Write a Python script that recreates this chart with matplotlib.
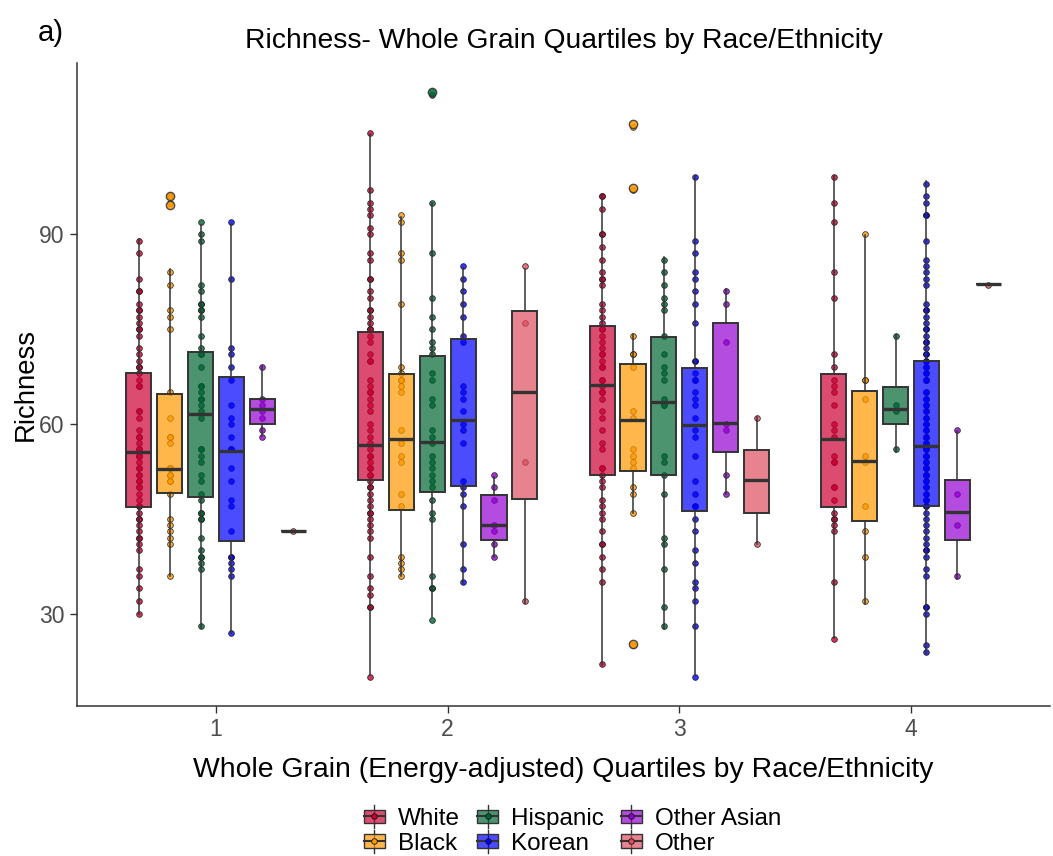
import matplotlib
matplotlib.use("Agg")
import matplotlib.pyplot as plt
from matplotlib.patches import Rectangle, Patch
from matplotlib.lines import Line2D
from matplotlib.legend_handler import HandlerBase

plt.rcParams['font.family'] = ['Liberation Sans', 'DejaVu Sans']

GROUPS = ["White", "Black", "Hispanic", "Korean", "Other Asian", "Other"]
QUARTILES = ["1", "2", "3", "4"]
POINT_COLORS = ["#CC0033", "#FF9900", "#006633", "#0000FF", "#9400D3", "#DE4F5F"]
BOX_COLORS = ["#CC0033", "#FF9900", "#006633", "#0000FF", "#9400D3", "#DE4F5F"]

# jittered observations (Richness) per quartile and group
PTS_Q1 = {
    "White": [89, 87, 83, 81, 81, 79, 78, 78, 77, 76, 75, 75, 74, 72, 71, 70, 69, 69, 68, 67, 66, 66, 62, 62,
              61, 59, 58, 58, 58, 57, 56, 56, 55, 55, 55, 54, 53, 53, 52, 52, 51, 51, 50, 50, 49, 48, 47, 47,
              46, 45, 45, 44, 43, 42, 42, 41, 40, 37, 36, 34, 32, 30],
    "Black": [96, 95, 84, 82, 78, 77, 75, 65, 61, 58, 58, 57, 53, 53, 52, 52, 51, 51, 49, 45, 44, 43, 42, 41, 36],
    "Hispanic": [92, 90, 89, 82, 81, 79, 79, 78, 78, 77, 74, 72, 71, 71, 69, 66, 66, 65, 64, 64, 63, 62, 61, 56,
                 56, 55, 54, 52, 51, 49, 48, 46, 46, 45, 45, 42, 40, 39, 39, 38, 37, 28],
    "Korean": [92, 83, 72, 71, 69, 67, 63, 61, 60, 58, 56, 56, 53, 51, 48, 47, 43, 39, 39, 38, 37, 36, 27],
    "Other Asian": [69, 64, 63, 62, 61, 59, 58],
    "Other": [43],
}
PTS_Q2 = {
    "White": [106, 97, 95, 94, 93, 91, 90, 87, 86, 83, 83, 81, 80, 78, 78, 77, 76, 75, 75, 74, 73, 71, 70, 70,
              67, 66, 65, 65, 64, 63, 62, 60, 59, 58, 57, 56, 55, 55, 54, 53, 53, 52, 52, 51, 50, 50, 49, 48,
              47, 46, 46, 45, 44, 43, 42, 39, 36, 34, 33, 31, 31, 20],
    "Black": [93, 92, 87, 86, 79, 69, 68, 67, 67, 66, 65, 59, 57, 55, 54, 49, 47, 39, 38, 37, 36],
    "Hispanic": [112, 95, 87, 80, 77, 75, 73, 72, 71, 68, 67, 64, 63, 59, 58, 57, 55, 54, 53, 52, 51, 50, 48,
                 46, 45, 36, 34, 34, 29],
    "Korean": [85, 83, 81, 79, 77, 74, 73, 66, 65, 64, 62, 60, 59, 57, 51, 50, 49, 47, 41, 37, 35],
    "Other Asian": [52, 50, 48, 44, 43, 41, 39],
    "Other": [85, 76, 54, 32],
}
PTS_Q3 = {
    "White": [96, 96, 94, 90, 90, 88, 86, 84, 83, 83, 82, 79, 78, 77, 76, 75, 75, 74, 73, 72, 71, 71, 70, 69,
              69, 67, 67, 66, 65, 65, 64, 62, 61, 59, 57, 56, 53, 53, 52, 51, 50, 48, 47, 46, 45, 43, 41, 41,
              39, 37, 35, 22],
    "Black": [107, 97, 74, 71, 71, 69, 62, 61, 56, 55, 54, 53, 50, 49, 46, 25],
    "Hispanic": [86, 84, 82, 80, 79, 78, 74, 71, 69, 68, 67, 64, 63, 63, 55, 54, 52, 49, 42, 41, 37, 31, 28],
    "Korean": [99, 89, 87, 84, 83, 81, 79, 76, 70, 70, 68, 67, 67, 65, 64, 63, 61, 59, 58, 55, 51, 49, 47, 47,
               45, 43, 40, 38, 35, 34, 32, 28, 20],
    "Other Asian": [81, 79, 73, 60, 59, 52, 49],
    "Other": [61, 41],
}
PTS_Q4 = {
    "White": [99, 95, 92, 84, 80, 71, 69, 67, 66, 65, 63, 60, 59, 58, 55, 54, 54, 50, 50, 48, 46, 45, 45, 44,
              43, 35, 26],
    "Black": [90, 67, 67, 64, 55, 54, 47, 43, 39, 32],
    "Hispanic": [74, 63, 62, 56],
    "Korean": [98, 96, 95, 93, 93, 89, 86, 85, 84, 83, 82, 79, 78, 78, 77, 76, 75, 75, 74, 73, 73, 72, 71, 71,
               70, 70, 69, 69, 68, 68, 67, 67, 67, 65, 65, 64, 64, 63, 63, 62, 62, 61, 61, 60, 60, 59, 59, 58,
               58, 58, 57, 57, 56, 56, 56, 55, 55, 55, 54, 54, 53, 53, 53, 52, 52, 52, 51, 51, 50, 50, 49, 49,
               48, 48, 47, 47, 46, 45, 44, 43, 42, 41, 40, 40, 39, 37, 36, 31, 31, 30, 25, 24],
    "Other Asian": [59, 49, 44, 36],
    "Other": [82],
}
POINTS = [PTS_Q1, PTS_Q2, PTS_Q3, PTS_Q4]

# box statistics: rows = quartile, columns = group
WHISLO = [[30.0, 35.9, 27.8, 27.0, 58.1, 43.0],
          [20.3, 36.0, 29.4, 34.9, 38.9, 31.7],
          [21.9, 45.9, 27.6, 20.3, 49.0, 41.1],
          [26.2, 31.5, 55.6, 23.7, 35.5, 82.1]]
Q1S = [[46.8, 49.1, 48.4, 41.5, 60.0, 43.0],
       [51.1, 46.4, 49.3, 50.2, 41.6, 48.1],
       [51.9, 52.6, 51.9, 46.2, 55.5, 46.0],
       [46.9, 44.6, 60.0, 47.1, 41.6, 82.1]]
MEDS = [[55.5, 52.9, 61.6, 55.7, 62.3, 43.0],
        [56.7, 57.6, 57.2, 60.7, 44.1, 65.0],
        [66.2, 60.7, 63.5, 59.9, 60.1, 51.2],
        [57.6, 54.1, 62.4, 56.6, 46.1, 82.1]]
Q3S = [[68.0, 64.7, 71.4, 67.4, 64.0, 43.0],
       [74.6, 67.9, 70.8, 73.5, 48.7, 77.9],
       [75.5, 69.5, 73.8, 68.9, 75.9, 55.9],
       [67.9, 65.2, 65.9, 70.0, 51.2, 82.1]]
WHISHI = [[89.2, 84.5, 91.5, 91.6, 69.2, 43.0],
          [105.8, 92.7, 95.0, 84.6, 51.6, 84.5],
          [96.2, 74.3, 86.4, 99.3, 81.3, 61.1],
          [99.2, 89.9, 74.1, 98.4, 58.9, 82.1]]
FLIERS = [[[], [96.1, 94.6], [], [], [], []],
          [[], [], [112.5], [], [], []],
          [[], [107.4, 97.3, 25.2], [], [], [], []],
          [[], [], [], [], [], []]]

W, H = 1053, 856
fig = plt.figure(figsize=(W / 100, H / 100), dpi=100)
ax = fig.add_axes([77 / W, 1 - 706 / H, (1050 - 77) / W, (706 - 63) / H])

dodge = 0.8 / len(GROUPS)
box_w = 0.108

for qi in range(len(QUARTILES)):
    for gi, g in enumerate(GROUPS):
        pos = (qi + 1) + (gi - (len(GROUPS) - 1) / 2) * dodge
        vals = POINTS[qi][g]
        ax.scatter([pos] * len(vals), vals, s=17, c=POINT_COLORS[gi], edgecolors="#111111",
                   linewidths=0.6, alpha=0.8, zorder=2)
        st = dict(med=MEDS[qi][gi], q1=Q1S[qi][gi], q3=Q3S[qi][gi],
                  whislo=WHISLO[qi][gi], whishi=WHISHI[qi][gi], fliers=FLIERS[qi][gi])
        bp = ax.bxp([st], positions=[pos], widths=box_w, patch_artist=True, showcaps=False,
                    boxprops=dict(facecolor=BOX_COLORS[gi], edgecolor="#333333", linewidth=1.4),
                    whiskerprops=dict(color="#333333", linewidth=1.1),
                    medianprops=dict(color="#333333", linewidth=2.4),
                    flierprops=dict(marker="o", markersize=6, markerfacecolor=POINT_COLORS[gi],
                                    markeredgecolor="#333333", markeredgewidth=1.0, alpha=0.85),
                    manage_ticks=False, zorder=3)
        for b in bp["boxes"]:
            r, gg, bb, _ = matplotlib.colors.to_rgba(BOX_COLORS[gi])
            b.set_facecolor((r, gg, bb, 0.7))
            b.set_edgecolor("#333333")

ax.set_xlim(0.4, 4.6)
ax.set_ylim(15.4, 117.1)
ax.set_xticks(range(1, len(QUARTILES) + 1))
ax.set_xticklabels(QUARTILES)
ax.set_yticks([30, 60, 90])
for s in ["top", "right"]:
    ax.spines[s].set_visible(False)
for s in ["left", "bottom"]:
    ax.spines[s].set_color("#333333")
    ax.spines[s].set_linewidth(1.1)
ax.tick_params(axis="both", colors="#333333", length=5, width=1.0, labelsize=16.5,
               labelcolor="#4D4D4D", pad=4)

ax.set_xlabel("Whole Grain (Energy-adjusted) Quartiles by Race/Ethnicity", fontsize=20.4, labelpad=11)
ax.set_ylabel("Richness", fontsize=19.8, labelpad=0)
ax.set_title("Richness- Whole Grain Quartiles by Race/Ethnicity", fontsize=20.3, pad=11)
fig.text(38 / W, 1 - 33 / H, "a)", fontsize=21, va="center", ha="left")


class HandlerBoxKey(HandlerBase):
    def __init__(self, color):
        super().__init__()
        self.color = color

    def create_artists(self, legend, orig_handle, xdescent, ydescent, width, height, fontsize, trans):
        x0, y0 = -xdescent, -ydescent
        cx = x0 + width / 2
        cy = y0 + height / 2
        r, g, b, _ = matplotlib.colors.to_rgba(self.color)
        rect = Rectangle((x0 + width * 0.1, y0 + height * 0.12), width * 0.8, height * 0.76,
                         facecolor=(r, g, b, 0.7), edgecolor="#333333", linewidth=1.0, transform=trans)
        wl = Line2D([cx, cx], [y0 - height * 0.15, y0 + height * 1.15], color="#333333", linewidth=1.0,
                    transform=trans)
        ml = Line2D([x0 + width * 0.1, x0 + width * 0.9], [cy, cy], color="#333333", linewidth=1.5,
                    transform=trans)
        pt = Line2D([cx], [cy], marker="o", markersize=4, markerfacecolor=self.color,
                    markeredgecolor="#111111", markeredgewidth=0.6, linestyle="none", transform=trans)
        return [wl, rect, ml, pt]


handles = [Patch(facecolor=c, label=g) for g, c in zip(GROUPS, BOX_COLORS)]
hmap = {h: HandlerBoxKey(c) for h, c in zip(handles, POINT_COLORS)}
fig.legend(handles=handles, labels=GROUPS, handler_map=hmap, ncol=3, loc="center",
           bbox_to_anchor=(571 / W, 1 - 831 / H), frameon=False, fontsize=17.5,
           handlelength=1.1, handleheight=0.75, handletextpad=0.4, columnspacing=0.6,
           labelspacing=0.1, borderpad=0.2)

fig.savefig("out.png", dpi=100)
